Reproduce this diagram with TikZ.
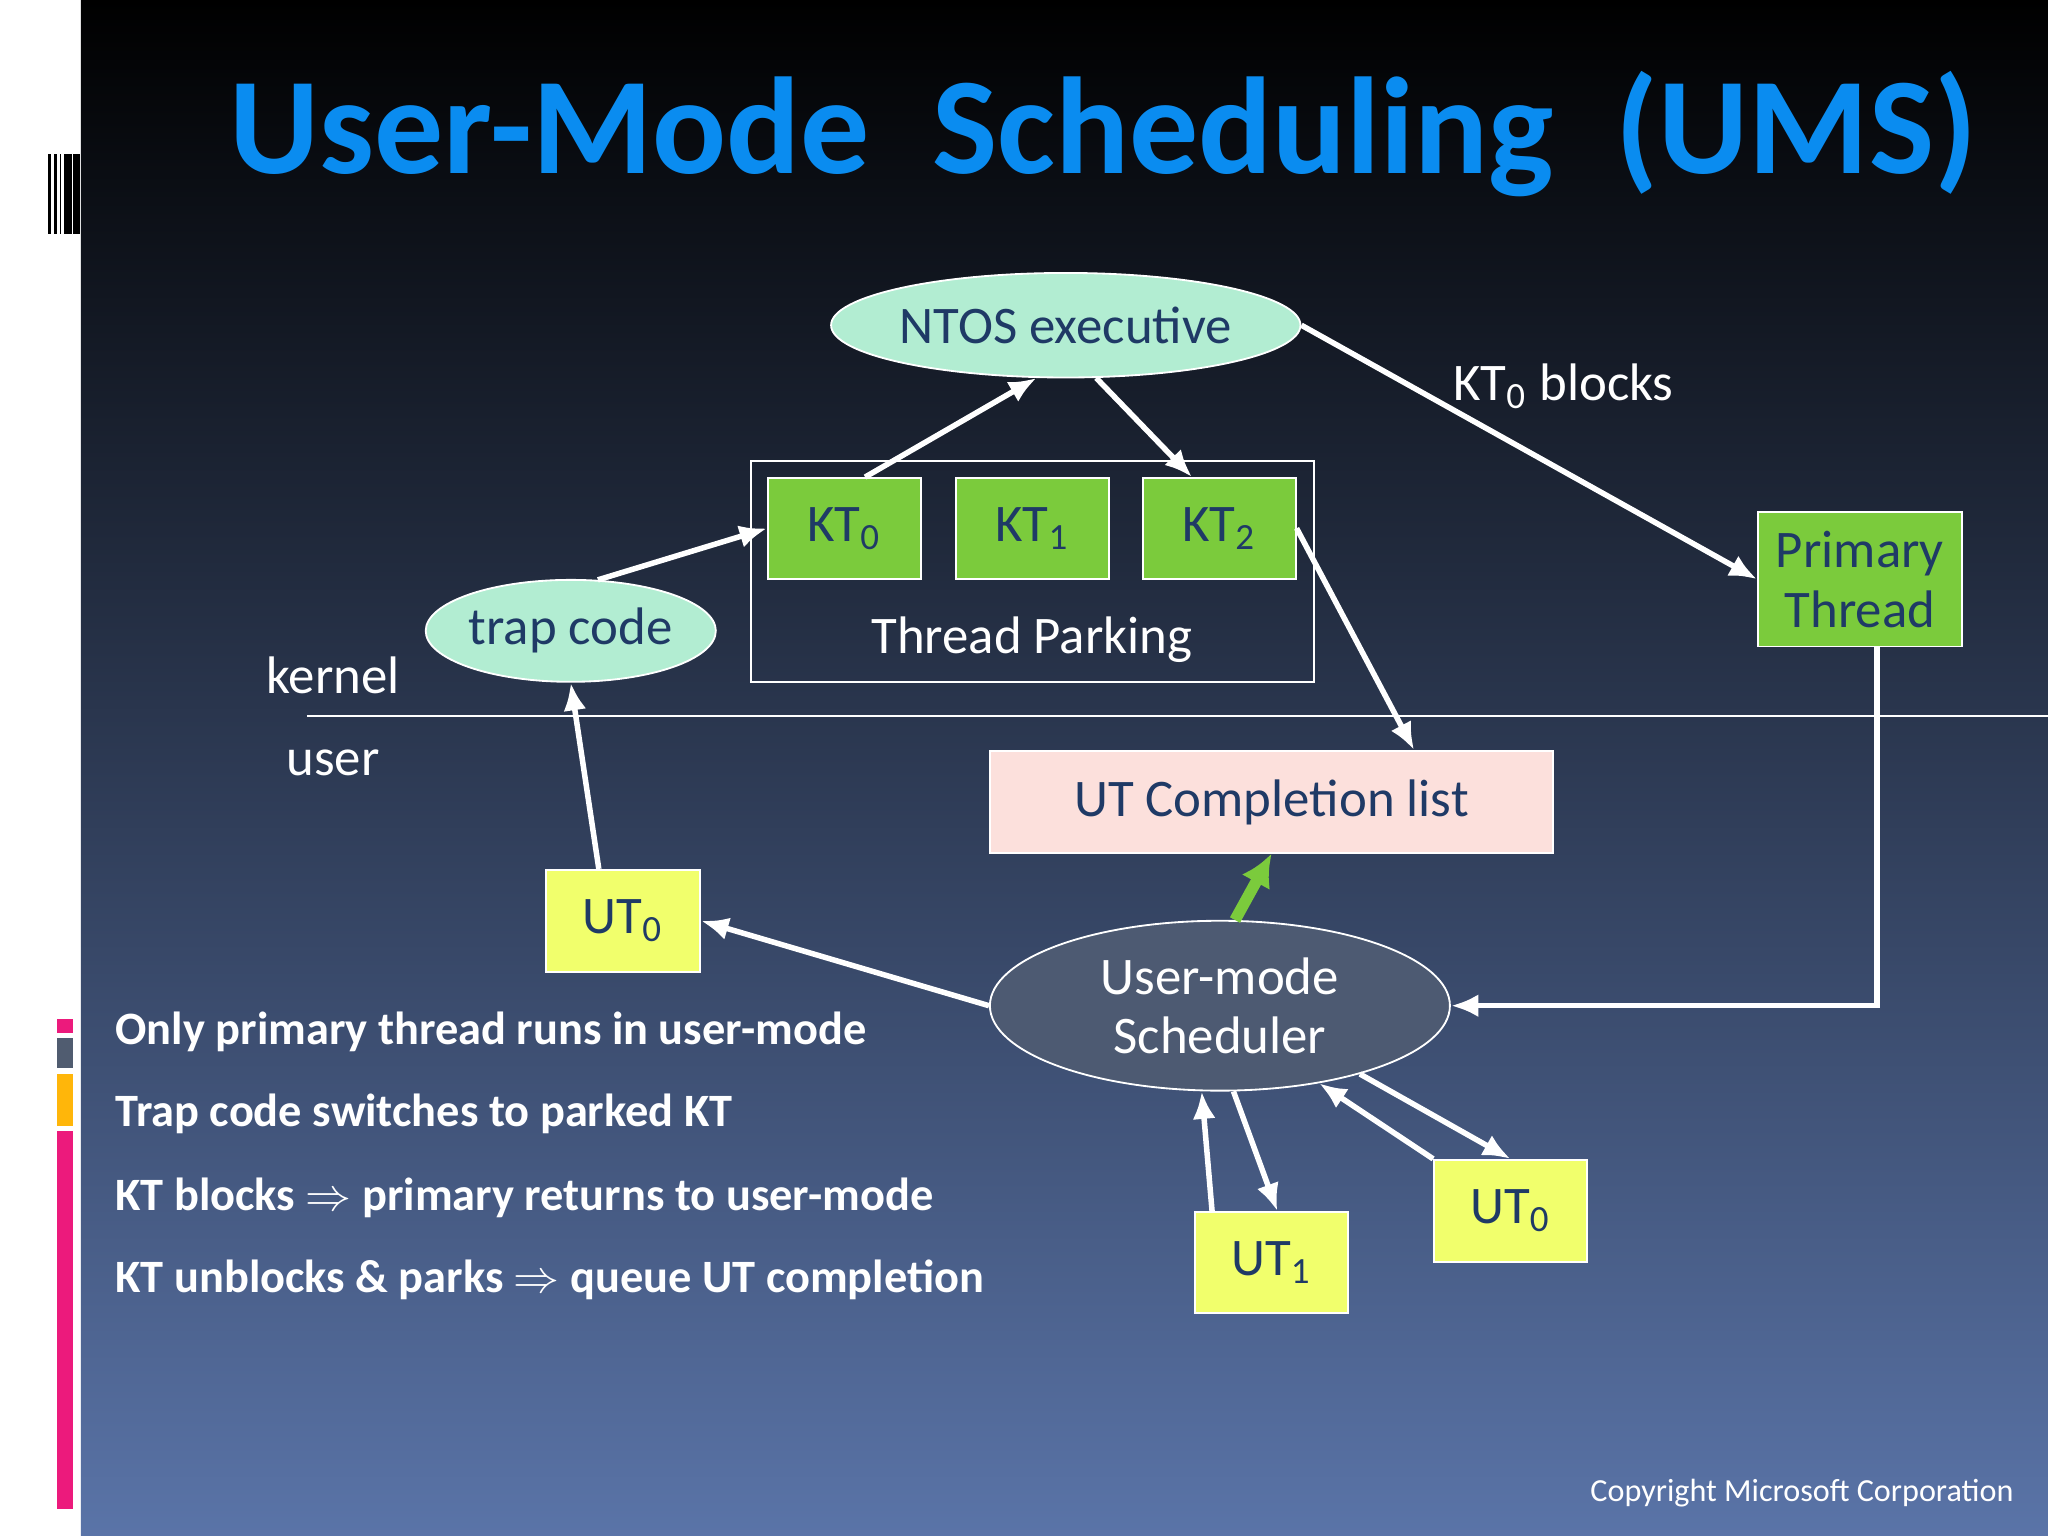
\documentclass[tikz,border=0pt]{standalone}
\usepackage{fontspec}
\setmainfont{Carlito}
\usetikzlibrary{arrows.meta,shapes.geometric}
\definecolor{bgtop}{HTML}{000000}
\definecolor{bgbot}{HTML}{5A74A8}
\definecolor{ttl}{HTML}{0A8CF0}
\definecolor{mint}{HTML}{B2EDD2}
\definecolor{ktgreen}{HTML}{7BCB3C}
\definecolor{utyel}{HTML}{F1FF6C}
\definecolor{pinkbox}{HTML}{FCE0DC}
\definecolor{sched}{HTML}{4D5A72}
\definecolor{dtext}{HTML}{1F3A66}
\definecolor{magbar}{HTML}{EC1A7C}
\definecolor{greybar}{HTML}{505C70}
\definecolor{orgbar}{HTML}{FFB60A}
\begin{document}
\begin{tikzpicture}[x=0.01cm,y=-0.01cm,
  txt/.style={font=\fontsize{11.5}{13}\selectfont},
  box/.style={draw=white,line width=0.4pt,txt,text=dtext,inner sep=0pt},
  oval/.style={ellipse,draw=white,line width=0.4pt,txt,text=dtext,inner sep=0pt},
  arr/.style={white,line width=1.2pt,-{Latex[length=6pt,width=5pt]}},
  bul/.style={anchor=west,white,font=\bfseries\fontsize{10.1}{12}\selectfont}]
\useasboundingbox (0,0) rectangle (1568,1176);
\fill[white] (0,0) rectangle (62,1176);
\shade[top color=bgtop,bottom color=bgbot] (62,0) rectangle (1568,1176);
% left bars
\foreach \x/\w in {37/2,41/3,46/1,49/6,56/5}
  \fill[black] (\x,118) rectangle ++(\w,61);
\fill[magbar] (44,780) rectangle (56,791);
\fill[greybar] (44,795) rectangle (56,818);
\fill[orgbar] (44,822) rectangle (56,862);
\fill[magbar] (44,866) rectangle (56,1155);
% title
\node[anchor=west,text=ttl,inner sep=0pt,font=\bfseries\fontsize{30}{34}\selectfont] (title) at (175,103)
  {User-Mode\ \ Scheduling\ \ (UMS)};
% kernel/user divider
\draw[white,line width=0.5pt] (235,548) -- (1568,548);
\node[white,txt] (kern) at (255,517) {kernel};
\node[white,txt] (usr) at (255,584) {user};
% nodes
\node[oval,fill=mint,minimum width=3.52cm,minimum height=0.8cm] (ntos) at (816,249) {NTOS executive};
\node[draw=white,line width=0.5pt,minimum width=4.31cm,minimum height=1.69cm] (park) at (790.5,437.5) {};
\node[box,fill=ktgreen,minimum width=1.17cm,minimum height=0.77cm] (kt0) at (646.5,404.5) {KT\textsubscript{0}};
\node[box,fill=ktgreen,minimum width=1.17cm,minimum height=0.77cm] (kt1) at (790.5,404.5) {KT\textsubscript{1}};
\node[box,fill=ktgreen,minimum width=1.17cm,minimum height=0.77cm] (kt2) at (933.5,404.5) {KT\textsubscript{2}};
\node[white,txt] (tp) at (790,490) {Thread Parking};
\node[oval,fill=mint,minimum width=2.22cm,minimum height=0.78cm] (trap) at (437,483) {trap code};
\node[box,fill=ktgreen,minimum width=1.56cm,minimum height=1.03cm,align=center] (prim) at (1424,443.5) {Primary\\Thread};
\node[white,txt] (ktb) at (1197,296) {KT\textsubscript{0} blocks};
\node[box,fill=pinkbox,minimum width=4.31cm,minimum height=0.78cm] (utc) at (973.5,614) {UT Completion list};
\node[box,fill=utyel,minimum width=1.18cm,minimum height=0.78cm] (ut0) at (477,705) {UT\textsubscript{0}};
\node[oval,fill=sched,text=white,minimum width=3.52cm,minimum height=1.3cm,align=center] (ums) at (934,770) {User-mode\\Scheduler};
\node[box,fill=utyel,minimum width=1.17cm,minimum height=0.77cm] (ut1) at (973.5,966.5) {UT\textsubscript{1}};
\node[box,fill=utyel,minimum width=1.17cm,minimum height=0.78cm] (ut0b) at (1156.5,927) {UT\textsubscript{0}};
% connectors
\draw[arr] (kt0.68) -- (ntos.241);
\draw[arr] (ntos.300) -- (kt2.118);
\draw[arr] (ntos.east) -- (prim.west);
\draw[arr] (trap.62) -- (kt0.west);
\draw[arr] (kt2.east) -- (utc.20);
\draw[arr] (ut0.115) -- (trap.south);
\draw[arr] (ums.west) -- (ut0.east);
\coordinate (corner) at (1437,770);
\draw[arr] (prim.south -| corner) -- (corner) -- (ums.east);
\draw[ktgreen,line width=2.5pt,-{Latex[length=7pt,width=7pt]}] (ums.80) -- (utc.south);
\draw[arr] (ut1.north west -| 928,0) -- (ums.258);
\draw[arr] (ums.279) -- (ut1.north -| 978,0);
\draw[arr] (ut0b.north west) -- (ums.322);
\draw[arr] (ums.334) -- (ut0b.north);
% bullets
\node[bul] (b1) at (76,790) {Only primary thread runs in user-mode};
\node[bul] (b2) at (76,853) {Trap code switches to parked KT};
\node[bul] (b3) at (76,917) {KT blocks $\Rightarrow$ primary returns to user-mode};
\node[bul] (b4) at (76,980) {KT unblocks \& parks $\Rightarrow$ queue UT completion};
\node[anchor=east,white,font=\fontsize{7}{8}\selectfont] (copy) at (1554,1143) {Copyright Microsoft Corporation};
\end{tikzpicture}
\end{document}
